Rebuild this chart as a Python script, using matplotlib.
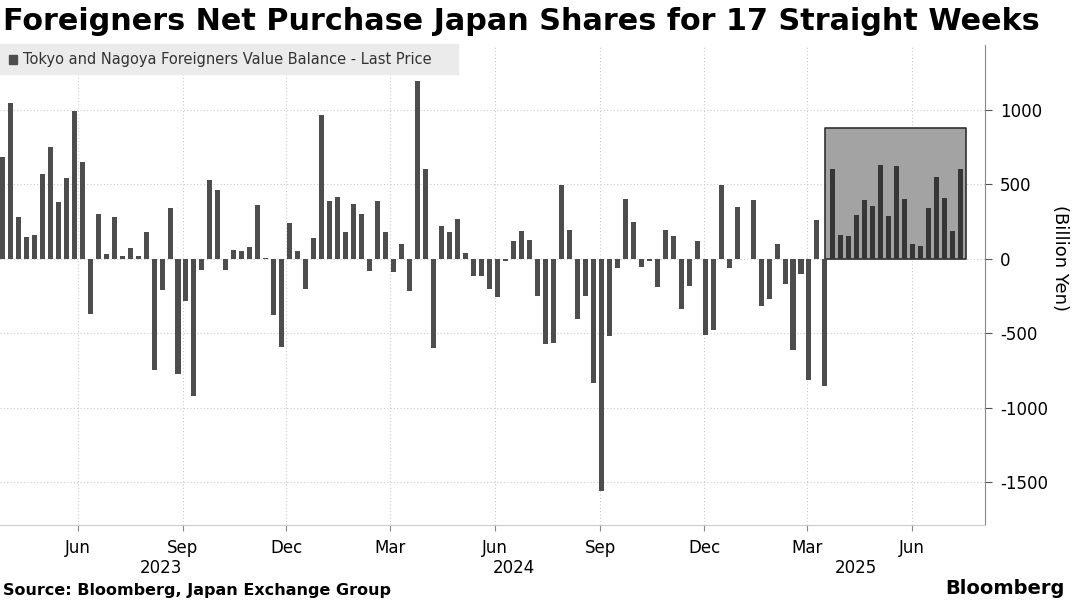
import matplotlib
matplotlib.use("Agg")
import matplotlib.pyplot as plt
import numpy as np
import pandas as pd

start_date = "2023-03-27"
values = [682, 1045, 280, 148, 160, 570, 751, 381, 540, 993,
          648, -368, 303, 34, 280, 18, 72, 18, 182, -747,
          -209, 341, -771, -283, -921, -76, 527, 460, -76, 61,
          54, 78, 363, 3, -374, -590, 238, 56, -204, 139,
          962, 388, 413, 177, 370, 303, -83, 388, 177, -87,
          101, -215, 1193, 601, -596, 220, 177, 267, 38, -114,
          -114, -204, -253, -16, 121, 184, 128, -247, -572, -563,
          496, 191, -404, -247, -832, -1558, -518, -61, 401, 249,
          -56, -16, -191, 193, 152, -336, -179, 123, -509, -478,
          498, -63, 348, -3, 395, -318, -269, 99, -166, -610,
          -99, -814, 260, -850, 605, 159, 152, 291, 395, 357,
          630, 287, 623, 401, 99, 85, 341, 552, 408, 188, 605]
streak_weeks = 17
box_top = 875
yticks = [1000, 500, 0, -500, -1000, -1500]
month_ticks = ["2023-06-01", "2023-09-01", "2023-12-01", "2024-03-01", "2024-06-01",
               "2024-09-01", "2024-12-01", "2025-03-01", "2025-06-01"]
month_labels = ["Jun", "Sep", "Dec", "Mar", "Jun", "Sep", "Dec", "Mar", "Jun"]
year_pos = ["2023-08-13", "2024-06-17", "2025-04-13"]
year_labels = ["2023", "2024", "2025"]

dates = pd.date_range(start_date, periods=len(values), freq="7D")
vals = np.array(values)

fig = plt.figure(figsize=(10.75, 6.01), dpi=100)
ax = fig.add_axes([0.0, 0.126, 0.916, 0.799])

ax.bar(dates, vals, width=4.4, color="#4d4d4d", zorder=3)

bx0 = dates[-streak_weeks - 1]
bx1 = dates[-1] + pd.Timedelta(days=5)
ax.fill_between([bx0, bx1], 0, box_top, color="#a3a3a3", zorder=2,
                edgecolor="#303030", linewidth=1.2)
ax.bar(dates[-streak_weeks:], vals[-streak_weeks:], width=4.4, color="#363636", zorder=4)

ax.set_ylim(-1787, 1434)
ax.set_xlim(pd.Timestamp("2023-03-25"), pd.Timestamp("2025-08-04"))
ax.yaxis.tick_right()
ax.set_yticks(yticks)
ax.set_yticklabels([str(v) for v in yticks], fontsize=12)
ax.tick_params(axis="y", length=5, color="#555555", pad=6)
ax.set_xticks([pd.Timestamp(d) for d in month_ticks])
ax.set_xticklabels(month_labels, fontsize=12)
ax.tick_params(axis="x", length=4, color="#888888", pad=6)
for d, l in zip(year_pos, year_labels):
    ax.text(pd.Timestamp(d), -0.088, l, transform=ax.get_xaxis_transform(),
            ha="center", va="center", fontsize=12)

ax.grid(True, color="#cccccc", linestyle=(0, (1, 2)), linewidth=0.8, zorder=0)
for s in ["top", "left"]:
    ax.spines[s].set_visible(False)
ax.spines["right"].set_color("#888888")
ax.spines["bottom"].set_color("#cccccc")

fig.text(0.986, 0.57, "(Billion Yen)", fontsize=13, rotation=270, ha="center", va="center")

fig.text(0.003, 0.965, "Foreigners Net Purchase Japan Shares for 17 Straight Weeks",
         fontsize=21.8, fontweight="bold", ha="left", va="center")
fig.patches.append(plt.Rectangle((0.0, 0.877), 0.426, 0.05, transform=fig.transFigure,
                                 color="#ebebeb", zorder=1))
fig.patches.append(plt.Rectangle((0.008, 0.893), 0.008, 0.016, transform=fig.transFigure,
                                 color="#4d4d4d", zorder=2))
fig.text(0.021, 0.901, "Tokyo and Nagoya Foreigners Value Balance - Last Price",
         fontsize=10.5, ha="left", va="center", color="#333333")

fig.text(0.003, 0.017, "Source: Bloomberg, Japan Exchange Group", fontsize=11.5,
         fontweight="bold", ha="left", va="center")
fig.text(0.99, 0.02, "Bloomberg", fontsize=14, fontweight="bold", ha="right", va="center")

fig.savefig("out.png", dpi=100)
